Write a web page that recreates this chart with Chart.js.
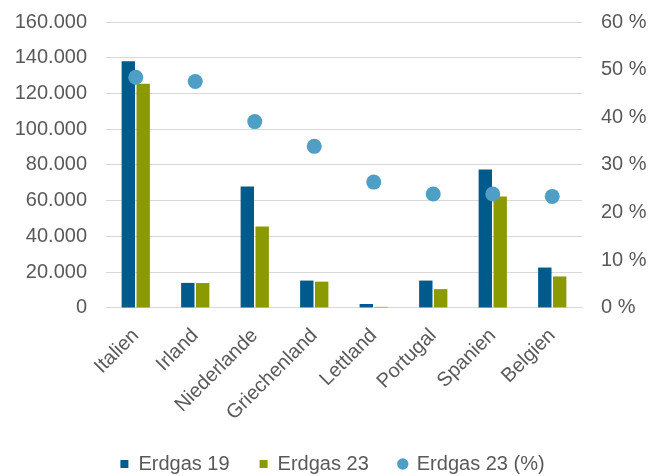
<!DOCTYPE html>
<html>
<head>
<meta charset="utf-8">
<script src="https://cdn.jsdelivr.net/npm/chart.js@4"></script>
<style>
  html, body { margin: 0; padding: 0; background: #fff; }
</style>
</head>
<body>
<canvas id="myChart" width="665" height="476"></canvas>
<script>
// ----------------------------- data -----------------------------
var laender = ['Italien', 'Irland', 'Niederlande', 'Griechenland', 'Lettland', 'Portugal', 'Spanien', 'Belgien'];
var erdgas19 = [138000, 14000, 68000, 15300, 2200, 15300, 77500, 22600];
var erdgas23 = [125500, 13900, 45500, 14700, 600, 10500, 62400, 17600];
var erdgas23Prozent = [48.4, 47.5, 39.1, 33.9, 26.4, 23.9, 23.9, 23.4];

var grau = '#595959';
var schrift = "'Liberation Sans', Arial, sans-serif";

// Tausenderpunkt wie im Original (160.000)
function tausender(v) {
  return String(v).replace(/\B(?=(\d{3})+(?!\d))/g, '.');
}

Chart.defaults.font.family = schrift;
Chart.defaults.font.size = 20;
Chart.defaults.color = grau;

const pickChart = document.getElementById('myChart');
const drawChart = new Chart(pickChart, {
  type: 'bar',
  data: {
    labels: laender,
    datasets: [
      {
        label: 'Erdgas 19',
        data: erdgas19,
        backgroundColor: '#005a8c',
        borderWidth: 0,
        categoryPercentage: 0.5,
        barPercentage: 0.9,
        yAxisID: 'y',
        order: 1
      },
      {
        label: 'Erdgas 23',
        data: erdgas23,
        backgroundColor: '#8a9a00',
        borderWidth: 0,
        categoryPercentage: 0.5,
        barPercentage: 0.9,
        yAxisID: 'y',
        order: 1
      },
      {
        type: 'line',
        label: 'Erdgas 23 (%)',
        data: erdgas23Prozent,
        showLine: false,
        pointRadius: 7.5,
        pointHoverRadius: 7.5,
        pointStyle: 'circle',
        backgroundColor: '#4f9ec5',
        borderColor: '#4f9ec5',
        borderWidth: 0,
        yAxisID: 'y1',
        order: 0
      }
    ]
  },
  options: {
    responsive: false,
    maintainAspectRatio: false,
    animation: false,
    layout: { padding: { left: 0, right: 0, top: 22, bottom: -8 } },
    plugins: {
      tooltip: { enabled: false },
      legend: {
        position: 'bottom',
        labels: {
          usePointStyle: true,
          boxWidth: 8,
          boxHeight: 8,
          padding: 30,
          color: grau,
          sort: function (a, b) { return a.datasetIndex - b.datasetIndex; },
          generateLabels: function (chart) {
            var items = Chart.defaults.plugins.legend.labels.generateLabels(chart);
            items.forEach(function (it) {
              it.pointStyle = it.datasetIndex === 2 ? 'circle' : 'rect';
              it.lineWidth = 0;
            });
            return items;
          }
        }
      }
    },
    scales: {
      x: {
        grid: { display: false },
        border: { color: '#d9d9d9', width: 1 },
        ticks: { minRotation: 45, maxRotation: 45, autoSkip: false, padding: 8, color: grau },
        afterFit: function (s) { s.height -= 9; }
      },
      y: {
        position: 'left',
        min: 0,
        max: 160000,
        grid: { color: '#d9d9d9', drawTicks: false },
        border: { display: false },
        ticks: {
          stepSize: 20000,
          autoSkip: false,
          padding: 19,
          color: grau,
          callback: function (v) { return tausender(v); }
        },
        afterFit: function (s) { s.width = 106; s.paddingTop = 0; }
      },
      y1: {
        position: 'right',
        min: 0,
        max: 60,
        grid: { display: false, drawTicks: false },
        border: { display: false },
        ticks: {
          stepSize: 10,
          autoSkip: false,
          padding: 19,
          color: grau,
          callback: function (v) { return v + ' %'; }
        },
        afterFit: function (s) { s.width = 83; s.paddingTop = 0; }
      }
    }
  }
});
</script>
</body>
</html>
